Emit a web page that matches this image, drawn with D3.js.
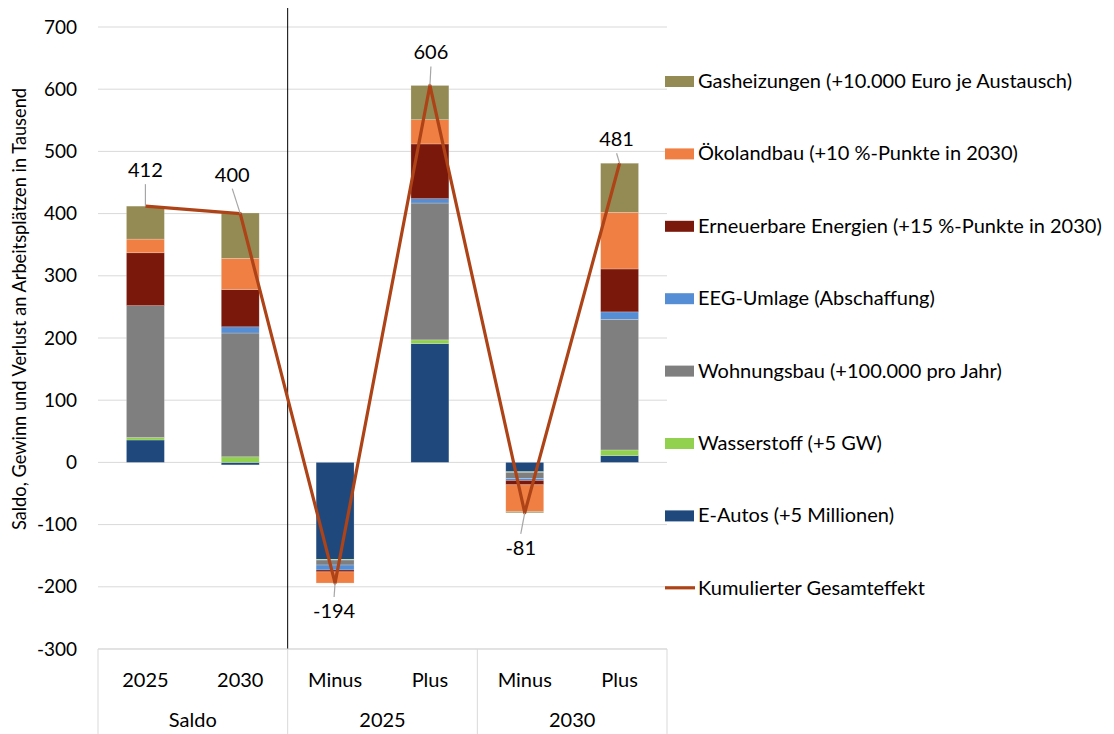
<!DOCTYPE html>
<html><head><meta charset="utf-8">
<script src="https://cdn.jsdelivr.net/npm/d3@7"></script>
<style>
body{margin:0;background:#fff;}
text{font-family:"Source Sans Pro",Lato,"Noto Sans",sans-serif;fill:#000;}
</style></head>
<body><svg id="chart" width="1114" height="734"></svg>
<script>
// ---- data ----
const categories = ["2025","2030","Minus","Plus","Minus","Plus"];
const groups = ["Saldo","2025","2030"];
const seriesNames = ["E-Autos (+5 Millionen)","Wasserstoff (+5 GW)","Wohnungsbau (+100.000 pro Jahr)","EEG-Umlage (Abschaffung)","Erneuerbare Energien (+15 %-Punkte in 2030)","Ökolandbau (+10 %-Punkte in 2030)","Gasheizungen (+10.000 Euro je Austausch)"];
const eAutos      = [36, -4, -156, 191, -15, 11];
const wasserstoff = [4, 9, -1, 6, -1, 9];
const wohnungsbau = [212, 199, -8, 220, -10, 210];
const eeg         = [0, 10, -8, 7, -3, 12];
const erneuerbare = [85, 60, -3, 88, -7, 69];
const oeko        = [22, 50, -18, 39, -43, 91];
const gas         = [53, 73, 0, 55, -2, 79];
const gesamt      = [412, 400, -194, 606, -81, 481];
const lineName = "Kumulierter Gesamteffekt";
const yTicks = [-300,-200,-100,0,100,200,300,400,500,600,700];

// ---- styles ----
const colors = ["#1F497D","#92D050","#7F7F7F","#558ED5","#7B180C","#F07F44","#948A54"];
const lineColor = "#AD4316";
const labelOffsets = [[0,-36],[-8,-39],[-1,28],[1,-33],[-4,35],[-3,-24]]; // label dx,dy from point

const seriesVals = [eAutos,wasserstoff,wohnungsbau,eeg,erneuerbare,oeko,gas];
const svg = d3.select("#chart");
const x0 = 98, x1 = 667, yTop = 27, yBot = 649;
const x = d3.scaleBand().domain(d3.range(categories.length)).range([x0,x1]).paddingInner(0.6).paddingOuter(0.3);
const y = d3.scaleLinear().domain([-300,700]).range([yBot,yTop]);

// gridlines
svg.append("g").selectAll("line").data(yTicks).join("line")
  .attr("x1",x0).attr("x2",x1).attr("y1",d=>y(d)).attr("y2",d=>y(d))
  .attr("stroke","#d9d9d9").attr("stroke-width",1);

// y ticks
svg.append("g").selectAll("text").data(yTicks).join("text")
  .attr("x",77).attr("y",d=>y(d)).attr("dy","0.35em").attr("text-anchor","end")
  .style("font-size","19px").text(d=>d);

// y title
svg.append("text").attr("transform","translate(19,309) rotate(-90)")
  .attr("text-anchor","middle").attr("dy","0.35em").style("font-size","19px")
  .attr("textLength",442).attr("lengthAdjust","spacingAndGlyphs")
  .text("Saldo, Gewinn und Verlust  an Arbeitsplätzen in Tausend");

// stacked bars
const barsG = svg.append("g");
categories.forEach((c,i)=>{
  let pos=0, neg=0;
  seriesVals.forEach((arr,s)=>{
    const v = arr[i];
    if(v===0) return;
    let a,b;
    if(v>0){a=pos;b=pos+v;pos=b;} else {a=neg;b=neg+v;neg=b;}
    barsG.append("rect")
      .attr("x",x(i)).attr("width",x.bandwidth())
      .attr("y",y(Math.max(a,b))).attr("height",Math.abs(y(a)-y(b)))
      .attr("fill",colors[s]).attr("stroke","#fff").attr("stroke-opacity",0.35).attr("stroke-width",0.6);
  });
});

// separator line
const sepX = x0 + 2*(x1-x0)/6;
svg.append("line").attr("x1",sepX).attr("x2",sepX).attr("y1",8).attr("y2",yBot).attr("stroke","#000").attr("stroke-width",1);

// category axis box
const ax = svg.append("g");
ax.append("line").attr("x1",x0).attr("x2",x1).attr("y1",yBot).attr("y2",yBot).attr("stroke","#d9d9d9");
[0,2,4,6].forEach(k=>{
  const xx = x0 + k*(x1-x0)/6;
  ax.append("line").attr("x1",xx).attr("x2",xx).attr("y1",yBot).attr("y2",734).attr("stroke","#d9d9d9");
});
ax.selectAll("text.cat").data(categories).join("text").attr("class","cat")
  .attr("x",(d,i)=>x(i)+x.bandwidth()/2).attr("y",680).attr("dy","0.35em")
  .attr("text-anchor","middle").style("font-size","20px").text(d=>d);
ax.selectAll("text.grp").data(groups).join("text").attr("class","grp")
  .attr("x",(d,i)=>x0+(2*i+1)*(x1-x0)/6).attr("y",720).attr("dy","0.35em")
  .attr("text-anchor","middle").style("font-size","20px").text(d=>d);

// line
const cx = i=>x(i)+x.bandwidth()/2;
svg.append("path").datum(gesamt)
  .attr("d",d3.line().x((d,i)=>cx(i)).y(d=>y(d)))
  .attr("fill","none").attr("stroke",lineColor).attr("stroke-width",3.2).attr("stroke-linejoin","round");

// data labels with leader lines
gesamt.forEach((v,i)=>{
  const [dx,dy] = labelOffsets[i];
  const px = cx(i), py = y(v);
  const s = dy<0 ? 1 : -1;
  svg.append("line")
    .attr("x1",px+dx).attr("y1",py+dy+s*14)
    .attr("x2",px).attr("y2",py)
    .attr("stroke","#a6a6a6").attr("stroke-width",1.2);
  svg.append("text").attr("x",px+dx).attr("y",py+dy).attr("dy","0.35em")
    .attr("text-anchor","middle").style("font-size","20px").text(v);
});

// legend
const leg = svg.append("g");
const legItems = seriesNames.map((n,i)=>({name:n,color:colors[i],type:"rect"})).reverse();
legItems.push({name:lineName,color:lineColor,type:"line"});
legItems.forEach((d,k)=>{
  const ly = 81 + k*72.4;
  if(d.type==="rect"){
    leg.append("rect").attr("x",665).attr("y",ly-5).attr("width",29).attr("height",11).attr("fill",d.color);
  } else {
    leg.append("line").attr("x1",665).attr("x2",695).attr("y1",ly).attr("y2",ly).attr("stroke",d.color).attr("stroke-width",3.2);
  }
  leg.append("text").attr("x",698).attr("y",ly).attr("dy","0.35em").style("font-size","20px").text(d.name);
});
</script></body></html>
